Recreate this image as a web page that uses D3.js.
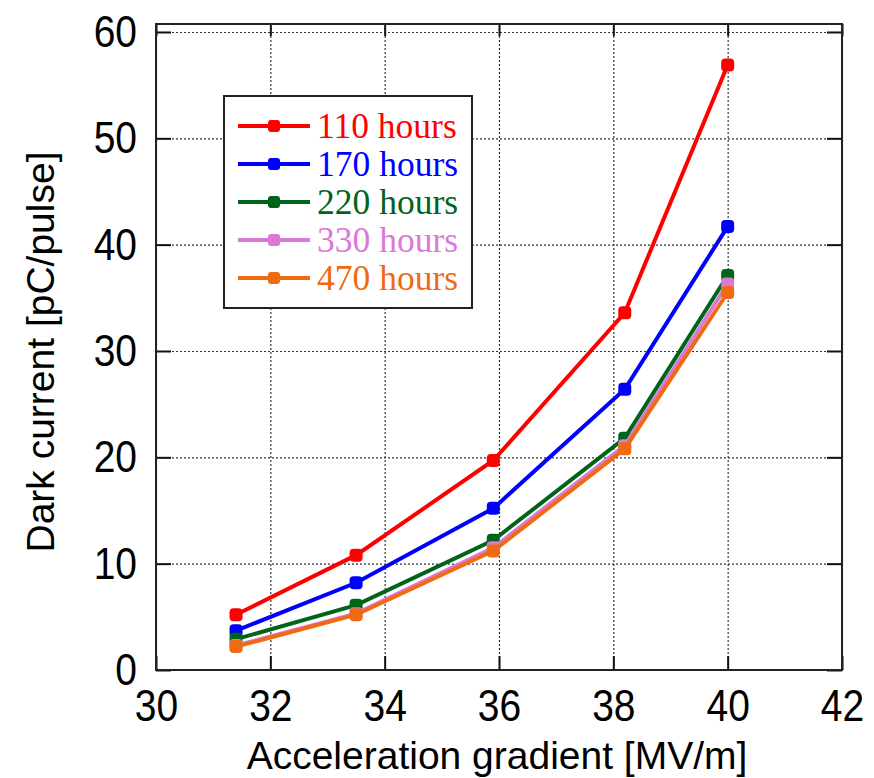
<!DOCTYPE html>
<html lang="en">
<head>
    <meta charset="UTF-8">
    <title>Dark current</title>
    <script src="https://d3js.org/d3.v7.min.js"></script>
    <style>
        body { margin: 0; background: #fff; }
        .tick text { font-family: "Liberation Sans", Arial, sans-serif; font-size: 39px; fill: #000; }
        .grid line { stroke: #333; stroke-width: 1.2px; stroke-dasharray: 2,2; }
        .grid path { display: none; }
    </style>
</head>
<body>
<svg width="874" height="778"></svg>
<script>
    // data
    let gradient = [31.4, 33.5, 35.9, 38.2, 40.0];
    let h110 = [5.2, 10.8, 19.7, 33.6, 56.9];
    let h170 = [3.7, 8.2, 15.2, 26.4, 41.7];
    let h220 = [2.9, 6.1, 12.2, 21.8, 37.1];
    let h330 = [2.3, 5.3, 11.5, 21.1, 36.3];
    let h470 = [2.2, 5.2, 11.2, 20.8, 35.5];
    let seriesNames = ["110 hours", "170 hours", "220 hours", "330 hours", "470 hours"];
    let seriesColors = ["#ff0000", "#0000ff", "#006419", "#da7ad6", "#f06a12"];
    let xTicks = [30, 32, 34, 36, 38, 40, 42];
    let yTicks = [0, 10, 20, 30, 40, 50, 60];

    let series = [h110, h170, h220, h330, h470];

    let svg = d3.select('svg');
    const mLeft = 156, mRight = 842, mTop = 24, mBottom = 670;
    const stretch = 1.15; // tick labels look a bit taller than wide

    let xScale = d3.scaleLinear().domain([30, 42]).range([mLeft, mRight]);
    let yScale = d3.scaleLinear().domain([0, 60.75]).range([mBottom, mTop]);

    // dotted grid
    svg.append("g").attr("class", "grid")
        .attr("transform", `translate(0,${mBottom})`)
        .call(d3.axisBottom(xScale).tickValues(xTicks).tickSize(-(mBottom - mTop)).tickFormat(""));
    svg.append("g").attr("class", "grid")
        .attr("transform", `translate(${mLeft},0)`)
        .call(d3.axisLeft(yScale).tickValues(yTicks).tickSize(-(mRight - mLeft)).tickFormat(""));

    // inner ticks on all four sides
    function styleAxis(g) {
        g.select(".domain").remove();
        g.selectAll(".tick line").attr("stroke", "#111").attr("stroke-width", 2);
    }
    svg.append("g").attr("transform", `translate(0,${mBottom})`)
        .call(d3.axisBottom(xScale).tickValues(xTicks).tickSizeInner(-14).tickFormat(d3.format("d")))
        .call(styleAxis)
        .selectAll(".tick text")
        .attr("dy", 0)
        .attr("y", 51 / stretch)
        .attr("transform", `scale(1,${stretch})`);
    svg.append("g").attr("transform", `translate(0,${mTop})`)
        .call(d3.axisTop(xScale).tickValues(xTicks).tickSizeInner(-12).tickFormat(""))
        .call(styleAxis);
    svg.append("g").attr("transform", `translate(${mLeft},0)`)
        .call(d3.axisLeft(yScale).tickValues(yTicks).tickSizeInner(-15).tickPadding(19).tickFormat(d3.format("d")))
        .call(styleAxis)
        .selectAll(".tick text")
        .attr("transform", `scale(1,${stretch})`);
    svg.append("g").attr("transform", `translate(${mRight},0)`)
        .call(d3.axisRight(yScale).tickValues(yTicks).tickSizeInner(-15).tickFormat(""))
        .call(styleAxis);

    // frame
    svg.append("rect")
        .attr("x", mLeft).attr("y", mTop)
        .attr("width", mRight - mLeft).attr("height", mBottom - mTop)
        .attr("fill", "none").attr("stroke", "#222").attr("stroke-width", 2);

    // lines and markers
    let line = d3.line()
        .x((d, i) => xScale(gradient[i]))
        .y(d => yScale(d));

    series.forEach(function (vals, k) {
        let g = svg.append("g");
        g.append("path")
            .attr("d", line(vals))
            .attr("fill", "none")
            .attr("stroke", seriesColors[k])
            .attr("stroke-width", 4);
        g.selectAll("rect")
            .data(vals)
            .enter()
            .append("rect")
            .attr("x", (d, i) => xScale(gradient[i]) - 6.5)
            .attr("y", d => yScale(d) - 6.5)
            .attr("width", 13).attr("height", 13)
            .attr("rx", 4)
            .attr("fill", seriesColors[k]);
    });

    // legend
    let legend = svg.append("g").attr("transform", "translate(224,96)");
    legend.append("rect")
        .attr("width", 248).attr("height", 212)
        .attr("fill", "#fff").attr("stroke", "#222").attr("stroke-width", 2);
    seriesNames.forEach(function (name, k) {
        let yy = 30 + k * 38;
        legend.append("line")
            .attr("x1", 14).attr("x2", 86).attr("y1", yy).attr("y2", yy)
            .attr("stroke", seriesColors[k]).attr("stroke-width", 4);
        legend.append("rect")
            .attr("x", 50 - 6).attr("y", yy - 6).attr("width", 12).attr("height", 12)
            .attr("rx", 3).attr("fill", seriesColors[k]);
        legend.append("text")
            .attr("x", 93).attr("y", yy + 12)
            .attr("font-family", "'Liberation Serif', 'Times New Roman', serif")
            .attr("font-size", "35.5px")
            .attr("fill", seriesColors[k])
            .text(name);
    });

    // axis titles
    svg.append("text")
        .attr("x", (mLeft + mRight) / 2 - 2).attr("y", 769)
        .attr("text-anchor", "middle")
        .attr("font-family", "'Liberation Sans', Arial, sans-serif")
        .attr("font-size", "39px")
        .text("Acceleration gradient [MV/m]");
    svg.append("text")
        .attr("transform", "translate(54,352) rotate(-90)")
        .attr("text-anchor", "middle")
        .attr("font-family", "'Liberation Sans', Arial, sans-serif")
        .attr("font-size", "39px")
        .text("Dark current [pC/pulse]");
</script>
</body>
</html>
